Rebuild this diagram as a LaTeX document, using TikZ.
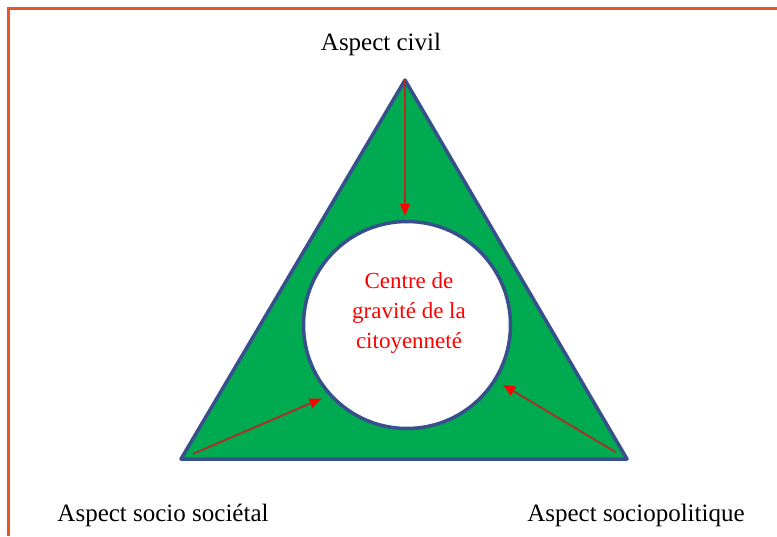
\documentclass[tikz,border=0pt]{standalone}
\usepackage{fontspec}
\setmainfont{Liberation Serif}
\usetikzlibrary{arrows.meta}
\definecolor{frameorange}{RGB}{234,84,40}
\definecolor{trigreen}{RGB}{0,170,80}
\definecolor{triblue}{RGB}{55,80,140}
\definecolor{arrowred}{RGB}{175,45,35}
\begin{document}
\begin{tikzpicture}[x=1pt, y=-1pt,
		aspect/.style={font=\fontsize{25}{29}\selectfont},
		push/.style={draw=arrowred, line width=1.8pt, -{Triangle[length=12pt, width=10pt, color=red, fill=red]}}]
	\useasboundingbox (0,0) rectangle (777,536);
	
	% Frame
	\draw[frameorange, line width=3.5pt] (8.5,536) -- (8.5,8.5) -- (777,8.5);
	
	% Triangle
	\coordinate (civil) at (405,80);
	\coordinate (societal) at (181,459);
	\coordinate (politique) at (627,459);
	\draw[triblue, fill=trigreen, line width=3.5pt, line join=round] (civil) -- (politique) -- (societal) -- cycle;
	
	% Centre of gravity
	\node[circle, draw=triblue, fill=white, line width=3.5pt, minimum size=207] (centre) at (407,325) {};
	\node[align=center, text=red, font=\fontsize{23}{30}\selectfont] (gravity) at (409,313) {Centre de\\gravité de la\\citoyenneté};
	
	% Aspects
	\node[aspect] (aspect-civil) at (381,44) {Aspect civil};
	\node[aspect] (aspect-societal) at (163,515) {Aspect socio sociétal};
	\node[aspect] (aspect-politique) at (636,515) {Aspect sociopolitique};
	
	% Connections
	\draw[push, shorten >=4pt] (civil) -- (civil |- centre.north);
	\foreach \src/\ang in {societal/222, politique/328} {
		\draw[push, shorten <=13pt, shorten >=8pt] (\src) -- (centre.\ang);
	}
\end{tikzpicture}
\end{document}
